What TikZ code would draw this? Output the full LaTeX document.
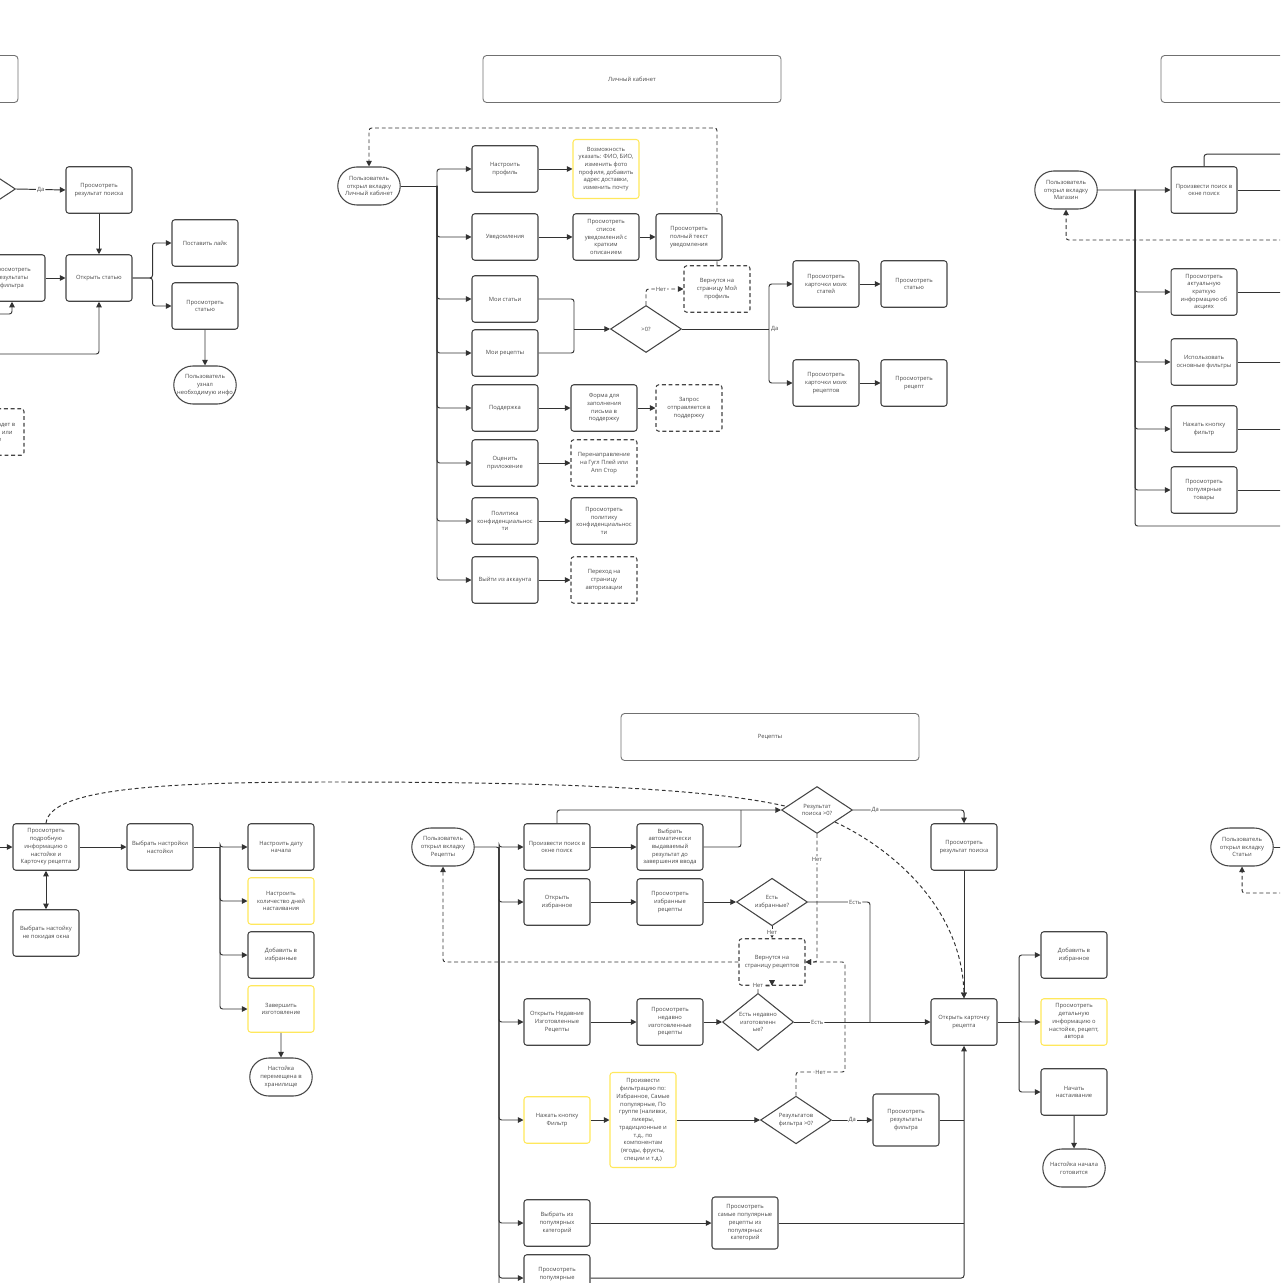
\documentclass[tikz,border=0pt]{standalone}
\usepackage{fontspec}
\setmainfont{Open Sans}
\usepackage{tikz}
\usetikzlibrary{arrows.meta,shapes.geometric,shapes.misc,backgrounds,calc}
\definecolor{FCLine}{HTML}{333333}
\definecolor{FCBox}{HTML}{454545}
\definecolor{FCTitle}{HTML}{707070}
\definecolor{FCYellow}{HTML}{FFE85C}
\definecolor{FCText}{HTML}{4A4A4A}
\tikzset{
  fctext/.style={font=\fontsize{3.3}{4.4}\selectfont,text=FCText,align=center},
  box/.style={fctext,draw=FCBox,line width=0.6pt,fill=white,rounded corners=1.6pt,
    minimum width=1.32cm,minimum height=0.93cm,inner sep=1pt},
  ybox/.style={box,draw=FCYellow},
  dsh/.style={dash pattern=on 2.2pt off 1.6pt},
  dbox/.style={box,dsh},
  term/.style={fctext,draw=FCBox,line width=0.6pt,fill=white,rounded rectangle,
    minimum width=1.32cm,minimum height=0.76cm,inner sep=1pt},
  decision/.style={fctext,draw=FCBox,line width=0.6pt,fill=white,diamond,
    minimum width=1.42cm,minimum height=0.94cm,inner sep=0pt},
  titlebox/.style={fctext,draw=FCTitle,line width=0.5pt,rounded corners=2pt,
    minimum width=5.96cm,minimum height=0.94cm},
  conn/.style={draw=FCLine,line width=0.55pt,rounded corners=1.5pt},
  arr/.style={conn,-{Triangle[length=3.2pt,width=3.2pt]}},
  lbl/.style={fctext,fill=white,inner sep=0.6pt},
}
\begin{document}
\begin{tikzpicture}[x=0.02cm,y=-0.02cm]
\useasboundingbox (0,0) rectangle (1280,1283);
\clip (0,0) rectangle (1280,1283);

% articles (left, cut)
\node[titlebox] (tlTitle) at (-131,79) {};
\node[decision] (tlDec) at (-20,189) {};
\node[box] (tlRes) at (99,190) {Просмотреть\\результат поиска};
\node[box] (tlOpen) at (99,278) {Открыть статью};
\node[box] (tlFilt) at (12,278) {Просмотреть\\результаты\\фильтра};
\node[box] (tlLike) at (205,243) {Поставить лайк};
\node[box] (tlRead) at (205,306) {Просмотреть\\статью};
\node[term] (tlEnd) at (205,385) {Пользователь\\узнал\\необходимую инфо};
\node[dbox] (tlBack) at (-9,432) {Статья попадет в\\избранное или\\в ленте};
\coordinate (tlIn1) at (-10,314);
\coordinate (tlIn2) at (-10,354);
\draw[arr] (tlDec.east) -- node[lbl]{Да} (tlRes.west);
\draw[arr] (tlRes) -- (tlOpen);
\draw[arr] (tlFilt) -- (tlOpen);
\draw[arr] (tlIn1) -| (tlFilt.south);
\draw[arr] (tlIn2) -| (tlOpen.south);
\draw[arr] (tlOpen.east) -- ++(20,0) |- (tlLike);
\draw[arr] (tlOpen.east) -- ++(20,0) |- (tlRead);
\draw[arr] (tlRead) -- (tlEnd);

% personal account
\node[titlebox] (lkTitle) at (632,79) {Личный кабинет};
\node[term] (lkStart) at (369,186) {Пользователь\\открыл вкладку\\Личный кабинет};
\node[box] (lkProf) at (505,169) {Настроить\\профиль};
\node[box] (lkNotif) at (505,237) {Уведомления};
\node[box] (lkArticles) at (505,299) {Мои статьи};
\node[box] (lkRecipes) at (505,353) {Мои рецепты};
\node[box] (lkSupport) at (505,408) {Поддержка};
\node[box] (lkRate) at (505,463) {Оценить\\приложение};
\node[box] (lkPolicy) at (505,521) {Политика\\конфиденциальнос\\ти};
\node[box] (lkLogout) at (505,580) {Выйти из аккаунта};
\node[ybox,minimum height=1.18cm] (lkProfInfo) at (606,169) {Возможность\\указать: ФИО, БИО,\\изменить фото\\профиля, добавить\\адрес доставки,\\изменить почту};
\node[box] (lkNotifList) at (606,237) {Просмотреть\\список\\уведомлений с\\кратким\\описанием};
\node[box] (lkNotifText) at (689,237) {Просмотреть\\полный текст\\уведомления};
\node[decision] (lkDec) at (646,329) {>0?};
\node[dbox] (lkBackProf) at (717,289) {Вернутся на\\страницу Мой\\профиль};
\node[box] (lkMyArt) at (826,284) {Просмотреть\\карточки моих\\статей};
\node[box] (lkArt) at (914,284) {Просмотреть\\статью};
\node[box] (lkMyRec) at (826,383) {Просмотреть\\карточки моих\\рецептов};
\node[box] (lkRec) at (914,383) {Просмотреть\\рецепт};
\node[box] (lkSuppForm) at (604,408) {Форма для\\заполнения\\письма в\\поддержку};
\node[dbox] (lkSuppReq) at (689,408) {Запрос\\отправляется в\\поддержку};
\node[dbox] (lkStore) at (604,463) {Перенаправление\\на Гугл Плей или\\Апп Стор};
\node[box] (lkPolicyView) at (604,521) {Просмотреть\\политику\\конфиденциальнос\\ти};
\node[dbox] (lkAuth) at (604,580) {Переход на\\страницу\\авторизации};
\coordinate (lkBus) at (437,186);
\coordinate (lkJoin) at (574,329);
\coordinate (lkYes) at (769,329);
\draw[conn] (lkStart.east) -- (lkBus);
\foreach \n in {lkProf,lkNotif,lkArticles,lkRecipes,lkSupport,lkRate,lkPolicy,lkLogout}
  \draw[arr] (lkBus) |- (\n);
\draw[arr] (lkProf) -- (lkProfInfo);
\draw[arr] (lkNotif) -- (lkNotifList);
\draw[arr] (lkNotifList) -- (lkNotifText);
\draw[conn] (lkArticles.east) -| (lkJoin);
\draw[conn] (lkRecipes.east) -| (lkJoin);
\draw[arr] (lkJoin) -- (lkDec.west);
\draw[arr,dsh] (lkDec.north) |- node[lbl,pos=0.7]{Нет} (lkBackProf.west);
\draw[conn] (lkDec.east) -- (lkYes);
\node[fctext,anchor=west,inner sep=1pt] (lkYesLbl) at (lkYes) {Да};
\draw[arr] (lkYes) |- (lkMyArt);
\draw[arr] (lkYes) |- (lkMyRec);
\draw[arr] (lkMyArt) -- (lkArt);
\draw[arr] (lkMyRec) -- (lkRec);
\draw[arr] (lkSupport) -- (lkSuppForm);
\draw[arr] (lkSuppForm) -- (lkSuppReq);
\draw[arr] (lkRate) -- (lkStore);
\draw[arr] (lkPolicy) -- (lkPolicyView);
\draw[arr] (lkLogout) -- (lkAuth);

% shop (right, cut)
\node[titlebox] (mgTitle) at (1310,79) {};
\node[term] (mgStart) at (1066,190) {Пользователь\\открыл вкладку\\Магазин};
\node[box] (mgSearch) at (1204,190) {Произвести поиск в\\окне поиск};
\node[box] (mgPromo) at (1204,292) {Просмотреть\\актуальную\\краткую\\информацию об\\акциях};
\node[box] (mgFilters) at (1204,362) {Использовать\\основные фильтры};
\node[box] (mgFilterBtn) at (1204,429) {Нажать кнопку\\фильтр};
\node[box] (mgPopular) at (1204,490) {Просмотреть\\популярные\\товары};
\coordinate (mgBus) at (1135,190);
\coordinate (mgBack) at (1290,240);
\draw[arr] (mgStart) -- (mgSearch);
\foreach \n in {mgPromo,mgFilters,mgFilterBtn,mgPopular}{
  \draw[arr] (mgBus) |- (\n);
  \draw[conn] (\n.east) -- ++(60,0);
}
\draw[conn] (mgBus) |- (1290,526);
\draw[conn] (mgSearch.east) -- ++(60,0);
\draw[conn] (mgSearch.north) -- ++(0,-12) -- ++(100,0);
\draw[arr,dsh] (mgBack) -| (mgStart.south);

% recipes
\node[titlebox] (rcTitle) at (770,737) {Рецепты};
\node[term] (rcStart) at (443,847) {Пользователь\\открыл вкладку\\Рецепты};
\node[box] (rcSearch) at (557,847) {Произвести поиск в\\окне поиск};
\node[box] (rcFav) at (557,902) {Открыть\\избранное};
\node[box] (rcRecent) at (557,1022) {Открыть Недавние\\Изготовленные\\Рецепты};
\node[ybox] (rcFilterBtn) at (557,1120) {Нажать кнопку\\Фильтр};
\node[box] (rcCats) at (557,1223) {Выбрать из\\популярных\\категорий};
\node[box] (rcPop) at (557,1278) {Просмотреть\\популярные\\рецепты};
\node[box] (rcAuto) at (670,847) {Выбрать\\автоматически\\выдаваемый\\результат до\\завершения ввода};
\node[box] (rcFavList) at (670,902) {Просмотреть\\избранные\\рецепты};
\node[box] (rcRecentList) at (670,1022) {Просмотреть\\недавно\\изготовленные\\рецепты};
\node[ybox,minimum height=1.9cm] (rcFilterSet) at (643,1120) {Произвести\\фильтрацию по:\\Избранное, Самые\\популярные, По\\группе (наливки,\\ликеры,\\традиционные и\\т.д., по\\компонентам\\(ягоды, фрукты,\\специи и т.д.)};
\node[box,minimum height=1.04cm] (rcTopCats) at (745,1223) {Просмотреть\\самые популярные\\рецепты из\\популярных\\категорий};
\node[decision] (rcSearchDec) at (817,810) {Результат\\поиска >0?};
\node[decision] (rcFavDec) at (772,902) {Есть\\избранные?};
\node[decision] (rcRecentDec) at (758,1022) {Есть недавно\\изготовленн\\ые?};
\node[decision] (rcFilterDec) at (796,1120) {Результатов\\фильтра >0?};
\node[dbox] (rcBack) at (772,962) {Вернутся на\\страницу рецептов};
\node[box] (rcSearchRes) at (964,847) {Просмотреть\\результат поиска};
\node[box] (rcCard) at (964,1022) {Открыть карточку\\рецепта};
\node[box,minimum height=1.04cm] (rcFilterRes) at (906,1120) {Просмотреть\\результаты\\фильтра};
\node[box] (rcAddFav) at (1074,955) {Добавить в\\избранное};
\node[ybox] (rcDetails) at (1074,1022) {Просмотреть\\детальную\\информацию о\\настойке, рецепт,\\автора};
\node[box] (rcStartInf) at (1074,1092) {Начать\\настаивание};
\node[term] (rcEnd) at (1074,1168) {Настойка начала\\готовится};
\node[term] (rcArtStart) at (1242,847) {Пользователь\\открыл вкладку\\Статьи};
\coordinate (rcBus) at (499,847);
\coordinate (rcJoin) at (870,1022);
\coordinate (rcNo) at (845,1072);
\coordinate (rcCardBus) at (1019,1022);
\coordinate (rcArtBack) at (1290,893);
\draw[conn] (rcStart.east) -- (rcBus) -- (499,1300);
\foreach \n in {rcSearch,rcFav,rcRecent,rcFilterBtn,rcCats,rcPop}
  \draw[arr] (rcBus) |- (\n);
\draw[arr] (rcSearch) -- (rcAuto);
\draw[arr] (rcSearch.north) |- (rcSearchDec.west);
\draw[conn] (rcAuto.east) -| (741,810);
\draw[arr] (rcSearchDec.east) -| node[lbl,pos=0.1]{Да} (rcSearchRes.north);
\draw[arr,dsh] (rcSearchDec.south) |- node[lbl,pos=0.1]{Нет} (rcBack.east);
\draw[arr,dsh] (rcSearchDec.south east) .. controls (895,850) and (962,910) .. (rcCard.north);
\draw[arr] (rcSearchRes) -- (rcCard);
\draw[arr] (rcFav) -- (rcFavList);
\draw[arr] (rcFavList) -- (rcFavDec);
\draw[arr,dsh] (rcFavDec.south) -- node[lbl]{Нет} (rcBack.north);
\draw[conn] (rcFavDec.east) -| node[lbl,pos=0.38]{Есть} (rcJoin);
\draw[arr] (rcRecent) -- (rcRecentList);
\draw[arr] (rcRecentList) -- (rcRecentDec);
\draw[arr] (rcRecentDec.east) -- node[lbl,pos=0.17]{Есть} (rcCard.west);
\draw[arr,dsh] (rcRecentDec.north) -- ++(0,-7) node[lbl]{Нет} -| (rcBack.south);
\draw[arr] (rcFilterBtn) -- (rcFilterSet);
\draw[arr] (rcFilterSet) -- (rcFilterDec);
\draw[arr] (rcFilterDec) -- node[lbl]{Да} (rcFilterRes);
\draw[arr,dsh] (rcFilterDec.north) |- node[lbl,pos=0.75]{Нет} (rcNo) |- (rcBack.east);
\draw[arr,dsh] (rcBack.west) -| (rcStart.south);
\draw[arr] (rcCats) -- (rcTopCats);
\draw[arr] (rcPop.east) -| (rcCard.south);
\draw[conn] (rcFilterRes.east) -- (rcFilterRes.east -| rcCard.south);
\draw[conn] (rcTopCats.east) -- (rcTopCats.east -| rcCard.south);
\draw[conn] (rcCard.east) -- (rcCardBus);
\foreach \n in {rcAddFav,rcDetails,rcStartInf}
  \draw[arr] (rcCardBus) |- (\n);
\draw[arr] (rcStartInf) -- (rcEnd);
\draw[conn] (rcArtStart.east) -- ++(10,0);
\draw[arr,dsh] (rcArtBack) -| (rcArtStart.south);

% tincture settings (left)
\node[box] (blInfo) at (46,847) {Просмотреть\\подробную\\информацию о\\настойке и\\Карточку рецепта};
\node[box] (blPick) at (46,933) {Выбрать настойку\\не покидая окна};
\node[box] (blSet) at (160,847) {Выбрать настройки\\настойки};
\node[box] (blDate) at (281,847) {Настроить дату\\начала};
\node[ybox] (blDays) at (281,901) {Настроить\\количество дней\\настаивания};
\node[box] (blAdd) at (281,955) {Добавить в\\избранные};
\node[ybox] (blDone) at (281,1009) {Завершить\\изготовление};
\node[term] (blEnd) at (281,1077) {Настойка\\перемещена в\\хранилище};
\coordinate (blIn) at (-10,847);
\coordinate (blBus) at (220,847);
\draw[arr] (blIn) -- (blInfo);
\draw[conn,{Triangle[length=3.2pt,width=3.2pt]}-{Triangle[length=3.2pt,width=3.2pt]}] (blInfo) -- (blPick);
\draw[arr] (blInfo) -- (blSet);
\draw[conn] (blSet) -- (blBus);
\foreach \n in {blDate,blDays,blAdd,blDone}
  \draw[arr] (blBus) |- (\n);
\draw[arr] (blDone) -- (blEnd);
\draw[conn,dsh] (blInfo.north) .. controls (50,790) and (150,782) .. (330,782)
  .. controls (520,782) and (700,786) .. ($(rcSearchDec.west)!0.15!(rcSearchDec.north)$);

\begin{pgfonlayer}{background}
\fill[white] (0,0) rectangle (1280,1283);
\draw[arr,dsh] (lkBackProf.north) -- (717,128) -| (lkStart.north);
\end{pgfonlayer}
\end{tikzpicture}
\end{document}
